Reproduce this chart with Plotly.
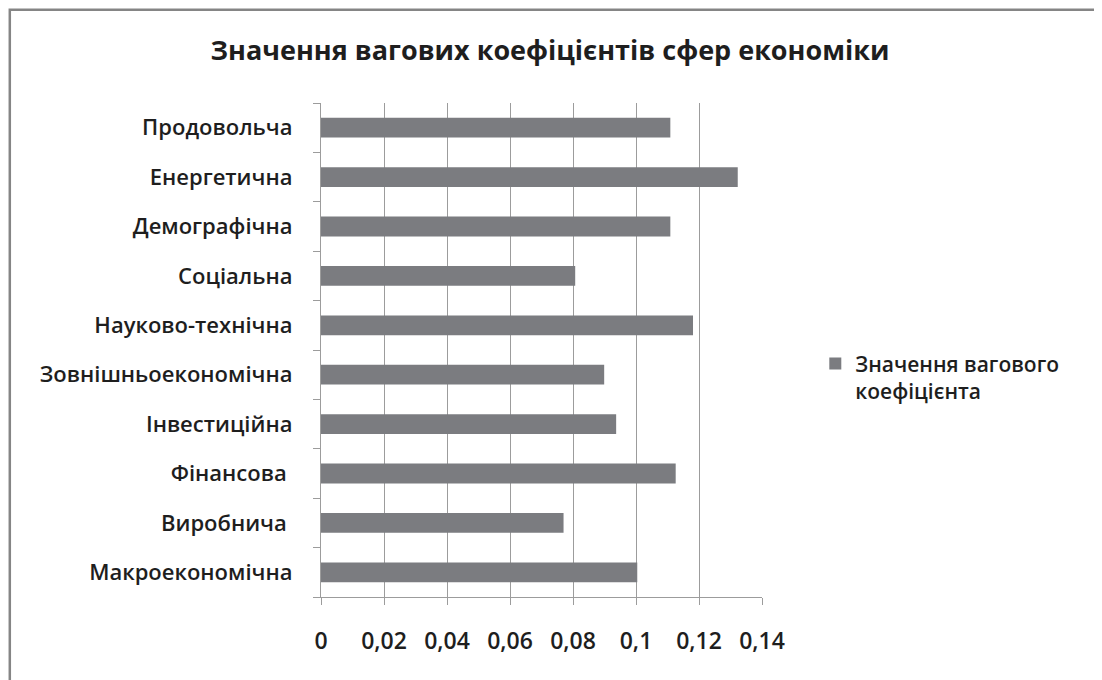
import plotly.graph_objects as go

categories = ["Макроекономічна", "Виробнича\u00a0", "Фінансова\u00a0", "Інвестиційна",
              "Зовнішньоекономічна", "Науково-технічна", "Соціальна", "Демографічна",
              "Енергетична", "Продовольча"]
values = [0.1004, 0.0770, 0.1126, 0.0937, 0.0899, 0.1181, 0.0807, 0.1109, 0.1323, 0.1109]
series_name = "Значення вагового<br>коефіцієнта"
title_text = "Значення вагових коефіцієнтів сфер економіки"
x_ticks = [0, 0.02, 0.04, 0.06, 0.08, 0.1, 0.12, 0.14]

FONT = "Open Sans"
TXT = "#1e1e1e"
GRID = "#9c9c9c"

# page body adds an 8px offset; figure is sized to fill the rest of the window
W, H = 1094, 672
PL, PR, PT, PB = 312.7, 753.7, 94.7, 588.7  # plot area in figure pixels
PW, PH = PR - PL, PB - PT

fig = go.Figure(go.Bar(
    y=categories, x=values, orientation="h", name=series_name,
    marker=dict(color="#7b7c80", line=dict(width=0)), showlegend=True,
))

fig.update_layout(
    width=W, height=H,
    margin=dict(l=PL, r=W - PR, t=PT, b=H - PB),
    paper_bgcolor="white", plot_bgcolor="white",
    separators=", ",
    bargap=0.6,
    font=dict(family=FONT, color=TXT, size=22, weight=600),
    title=dict(text=title_text, x=542 / W, xanchor="center", xref="container",
               y=1 - 43 / H, yanchor="middle", yref="container",
               font=dict(family=FONT, size=27, color=TXT, weight="bold")),
    legend=dict(x=(815 - 8 - PL) / PW, y=(PB - (343 - 8)) / PH, xanchor="left", yanchor="top",
                valign="top",
                font=dict(family=FONT, size=21, color=TXT, weight=600),
                bgcolor="rgba(0,0,0,0)"),
    xaxis=dict(range=[0, 0.14], tickvals=x_ticks, showgrid=True, gridcolor=GRID,
               gridwidth=1.3, zeroline=False, showline=True, linecolor=GRID,
               linewidth=1.3, ticks="outside", ticklen=7, tickcolor=GRID,
               tickwidth=1.3, ticklabelstandoff=16,
               tickfont=dict(size=23, weight=600)),
    yaxis=dict(type="category", showgrid=False, zeroline=False, showline=True,
               linecolor=GRID, linewidth=1.3, ticks="outside", ticklen=7,
               tickcolor=GRID, tickwidth=1.3, tickson="boundaries",
               ticklabelstandoff=23, tickfont=dict(size=22, weight=600)),
    shapes=[dict(type="rect", xref="paper", yref="paper",
                 x0=(1.5 - PL) / PW, x1=(1090 - PL) / PW,
                 y0=(PB - 720) / PH, y1=(PB - 1.5) / PH,
                 line=dict(color="#858585", width=2.5), fillcolor="rgba(0,0,0,0)",
                 layer="below")],
)

fig.write_html("out.html")
